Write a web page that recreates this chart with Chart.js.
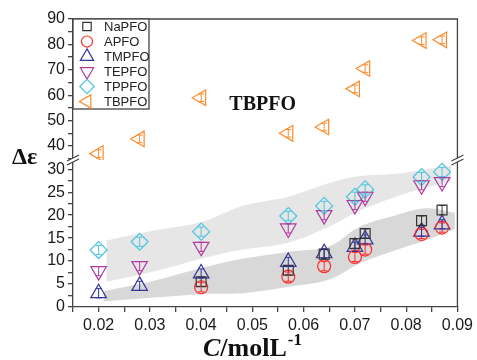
<!DOCTYPE html>
<html>
<head>
<meta charset="utf-8">
<script src="https://cdn.jsdelivr.net/npm/chart.js@4.4.0/dist/chart.umd.min.js"></script>
<style>
  html, body { margin: 0; padding: 0; background: #fff; }
  #wrap { width: 477px; height: 360px; }
</style>
</head>
<body>
<div id="wrap"><canvas id="chart" width="477" height="360"></canvas></div>
<script>
// Concentration (mol/L) and permittivity increments
const conc = [0.02, 0.028, 0.04, 0.057, 0.064, 0.070, 0.072, 0.083, 0.087];
const naPFO = [null, null, 5.5, 8.0, 11.5, 13.8, 16.0, 18.8, 21.1];
const aPFO = [null, null, 4.3, 6.6, 8.9, 10.9, 12.5, 15.9, 17.3];
const tmPFO = [3.0, 4.6, 7.3, 9.8, 11.7, 13.1, 14.7, 16.4, 18.0];
const tePFO = [7.8, 8.9, 13.1, 17.1, 20.0, 22.2, 24.0, 26.5, 27.2];
const tpPFO = [12.4, 14.2, 16.4, 19.8, 22.0, 24.0, 25.6, 28.3, 29.4];
const tbPFO = [37.0, 42.8, 59.0, 45.0, 47.5, 62.5, 70.5, 81.5, 81.8];
const errHalf = [1.0, 1.0, 1.0, 1.0, 1.0, 1.5]; // per series, same order as legend

// Gray guide bands (lower axis)
const lightBandX = [0.0215, 0.03, 0.04, 0.048, 0.057, 0.065, 0.071, 0.078, 0.084, 0.0888];
const lightBandTop = [14.5, 16.5, 18.5, 22.0, 24.0, 27.0, 28.5, 29.0, 30.0, 30.8];
const lightBandBot = [5.5, 7.5, 10.5, 12.5, 14.0, 17.5, 21.0, 24.0, 26.0, 27.2];
const darkBandX = [0.021, 0.03, 0.04, 0.048, 0.057, 0.065, 0.071, 0.078, 0.084, 0.0895];
const darkBandTop = [3.5, 5.5, 8.5, 10.5, 12.0, 13.2, 17.5, 20.0, 21.5, 20.5];
const darkBandBot = [1.2, 2.0, 2.8, 3.0, 4.4, 6.0, 9.5, 12.4, 14.6, 17.0];

// Axis ticks
const xTicks = [0.015, 0.02, 0.025, 0.03, 0.035, 0.04, 0.045, 0.05, 0.055, 0.06, 0.065, 0.07, 0.075, 0.08, 0.085, 0.09];
const xLabels = [0.02, 0.03, 0.04, 0.05, 0.06, 0.07, 0.08, 0.09];
const yLowTicks = [0, 2.5, 5, 7.5, 10, 12.5, 15, 17.5, 20, 22.5, 25, 27.5, 30];
const yLowLabels = [0, 5, 10, 15, 20, 25, 30];
const yHighTicks = [35, 40, 45, 50, 55, 60, 65, 70, 75, 80, 85, 90];
const yHighLabels = [40, 50, 60, 70, 80, 90];

const pts = (xs, ys) => xs.map((x, i) => ({ x: x, y: ys[i] }));

const tickFont = { family: "'Liberation Sans', Arial, sans-serif", size: 16 };
const axisColor = "#444";

function series(label, data, color, style, rot, r, axis) {
  return {
    label: label,
    data: pts(conc, data),
    yAxisID: axis,
    showLine: false,
    pointStyle: style,
    rotation: rot,
    pointRadius: r,
    pointBorderWidth: 1.2,
    borderColor: color,
    backgroundColor: "rgba(0,0,0,0)",
    pointBackgroundColor: "rgba(0,0,0,0)",
    isSeries: true,
    order: 1,
  };
}

function band(xs, ys, color, fill) {
  return {
    data: pts(xs, ys),
    yAxisID: "y",
    showLine: true,
    borderWidth: 0,
    borderColor: "rgba(0,0,0,0)",
    pointRadius: 0,
    tension: 0.35,
    fill: fill,
    backgroundColor: color,
    order: 5,
  };
}

const datasets = [
  band(lightBandX, lightBandTop, "#e6e6e6", false),
  band(lightBandX, lightBandBot, "#e6e6e6", "-1"),
  band(darkBandX, darkBandTop, "#d8d8d8", false),
  band(darkBandX, darkBandBot, "#d8d8d8", "-1"),
  series("NaPFO", naPFO, "#333333", "rect", 0, 7, "y"),
  series("APFO", aPFO, "#ff2a2a", "circle", 0, 6.5, "y"),
  series("TMPFO", tmPFO, "#35359a", "triangle", 0, 9, "y"),
  series("TEPFO", tePFO, "#b03c9e", "triangle", 180, 9, "y"),
  series("TPPFO", tpPFO, "#4cc6e0", "rectRot", 0, 8.5, "y"),
  series("TBPFO", tbPFO, "#ff8a2a", "triangle", 270, 9, "y2"),
];

// error bars inside the markers
const errorBars = {
  id: "errorBars",
  afterDatasetsDraw(chart) {
    const ctx = chart.ctx;
    let k = 0;
    chart.data.datasets.forEach((ds, di) => {
      if (!ds.isSeries) return;
      const meta = chart.getDatasetMeta(di);
      const sc = chart.scales[ds.yAxisID];
      const e = errHalf[k++];
      ctx.save();
      ctx.strokeStyle = ds.borderColor;
      ctx.lineWidth = 1;
      meta.data.forEach((p, i) => {
        const v = ds.data[i].y;
        if (v === null || p.skip) return;
        const y1 = sc.getPixelForValue(v + e);
        const y2 = sc.getPixelForValue(v - e);
        ctx.beginPath();
        ctx.moveTo(p.x, y1); ctx.lineTo(p.x, y2);
        ctx.moveTo(p.x - 3, y1); ctx.lineTo(p.x + 3, y1);
        ctx.moveTo(p.x - 3, y2); ctx.lineTo(p.x + 3, y2);
        ctx.stroke();
      });
      ctx.restore();
    });
  },
};

// frame, axis breaks, legend and text labels
const decorations = {
  id: "decorations",
  afterDraw(chart) {
    const ctx = chart.ctx;
    const a = chart.chartArea;
    const up = chart.scales.y2;
    ctx.save();
    ctx.strokeStyle = axisColor;
    ctx.lineWidth = 1.3;
    ctx.beginPath();
    ctx.moveTo(a.left, a.top);
    ctx.lineTo(a.right, a.top);
    ctx.lineTo(a.right, a.bottom);
    ctx.stroke();

    // break marks
    const yb = up.bottom;
    [a.left, a.right].forEach((xb) => {
      ctx.fillStyle = "#fff";
      ctx.fillRect(xb - 2, yb - 2, 4, 4);
      ctx.beginPath();
      ctx.moveTo(xb - 6, yb + 1); ctx.lineTo(xb + 6, yb - 5);
      ctx.moveTo(xb - 6, yb + 5); ctx.lineTo(xb + 6, yb - 1);
      ctx.stroke();
    });

    // legend
    const lx = a.left, ly = a.top, lw = 76, lh = 90;
    ctx.fillStyle = "#fff";
    ctx.fillRect(lx, ly, lw, lh);
    ctx.strokeStyle = axisColor;
    ctx.lineWidth = 1.3;
    ctx.strokeRect(lx, ly, lw, lh);
    ctx.font = "13px 'Liberation Sans', Arial, sans-serif";
    ctx.textBaseline = "middle";
    ctx.textAlign = "left";
    let row = 0;
    chart.data.datasets.forEach((ds) => {
      if (!ds.isSeries) return;
      const cy = ly + 7.5 + row * 15;
      ctx.strokeStyle = ds.borderColor;
      ctx.fillStyle = "rgba(0,0,0,0)";
      ctx.lineWidth = 1.2;
      Chart.helpers.drawPoint(ctx, {
        pointStyle: ds.pointStyle, rotation: ds.rotation,
        radius: ds.pointRadius * 0.85, borderWidth: 1.2,
      }, lx + 14, cy);
      ctx.fillStyle = "#222";
      ctx.fillText(ds.label, lx + 31, cy + 1);
      row++;
    });

    // axis titles
    ctx.fillStyle = "#111";
    ctx.font = "bold 24px 'Liberation Serif', 'Times New Roman', serif";
    ctx.textAlign = "left";
    ctx.textBaseline = "middle";
    ctx.fillText("\u0394\u03b5", 12, 158);

    const xs = chart.scales.x;
    ctx.textBaseline = "alphabetic";
    const base = 356;
    ctx.font = "italic bold 26px 'Liberation Serif', 'Times New Roman', serif";
    const w1 = ctx.measureText("C").width;
    ctx.font = "bold 26px 'Liberation Serif', 'Times New Roman', serif";
    const w2 = ctx.measureText("/molL").width;
    let x0 = 203;
    ctx.font = "italic bold 26px 'Liberation Serif', 'Times New Roman', serif";
    ctx.fillText("C", x0, base);
    ctx.font = "bold 26px 'Liberation Serif', 'Times New Roman', serif";
    ctx.fillText("/molL", x0 + w1, base);
    ctx.font = "bold 17px 'Liberation Serif', 'Times New Roman', serif";
    ctx.fillText("-1", x0 + w1 + w2 + 1, base - 11);

    // series annotation
    ctx.font = "bold 20px 'Liberation Serif', 'Times New Roman', serif";
    ctx.textAlign = "center";
    ctx.textBaseline = "middle";
    ctx.fillText("TBPFO", xs.getPixelForValue(0.052), up.getPixelForValue(56.3));
    ctx.restore();
  },
};

function yScale(min, max, ticks, labels, weight) {
  return {
    type: "linear",
    position: "left",
    stack: "left",
    stackWeight: weight,
    min: min,
    max: max,
    afterBuildTicks: (s) => { s.ticks = ticks.map((v) => ({ value: v })); },
    afterFit: (s) => { s.width = 73; },
    ticks: {
      autoSkip: false,
      padding: 3,
      color: "#1a1a1a",
      font: tickFont,
      callback: (v) => (labels.includes(v) ? String(v) : ""),
    },
    grid: { drawOnChartArea: false, drawTicks: true, tickLength: 5, color: axisColor, lineWidth: 1.3 },
    border: { display: true, color: axisColor, width: 1.3 },
  };
}

new Chart(document.getElementById("chart"), {
  type: "scatter",
  data: { datasets: datasets },
  options: {
    responsive: false,
    animation: false,
    devicePixelRatio: 1,
    layout: { padding: { top: 19, right: 18, left: 0, bottom: 0 } },
    plugins: { legend: { display: false }, tooltip: { enabled: false } },
    scales: {
      x: {
        type: "linear",
        min: 0.015,
        max: 0.09,
        afterBuildTicks: (s) => { s.ticks = xTicks.map((v) => ({ value: v })); },
        afterFit: (s) => { s.height = 53; },
        ticks: {
          autoSkip: false,
          maxRotation: 0,
          padding: 4,
          color: "#1a1a1a",
          font: tickFont,
          callback: (v) => (xLabels.includes(v) ? v.toFixed(2) : ""),
        },
        grid: { drawOnChartArea: false, drawTicks: true, tickLength: 5, color: axisColor, lineWidth: 1.3 },
        border: { display: true, color: axisColor, width: 1.3 },
      },
      y: yScale(0, 32, yLowTicks, yLowLabels, 147),
      y2: yScale(34.5, 90, yHighTicks, yHighLabels, 141),
    },
  },
  plugins: [errorBars, decorations],
});
</script>
</body>
</html>
